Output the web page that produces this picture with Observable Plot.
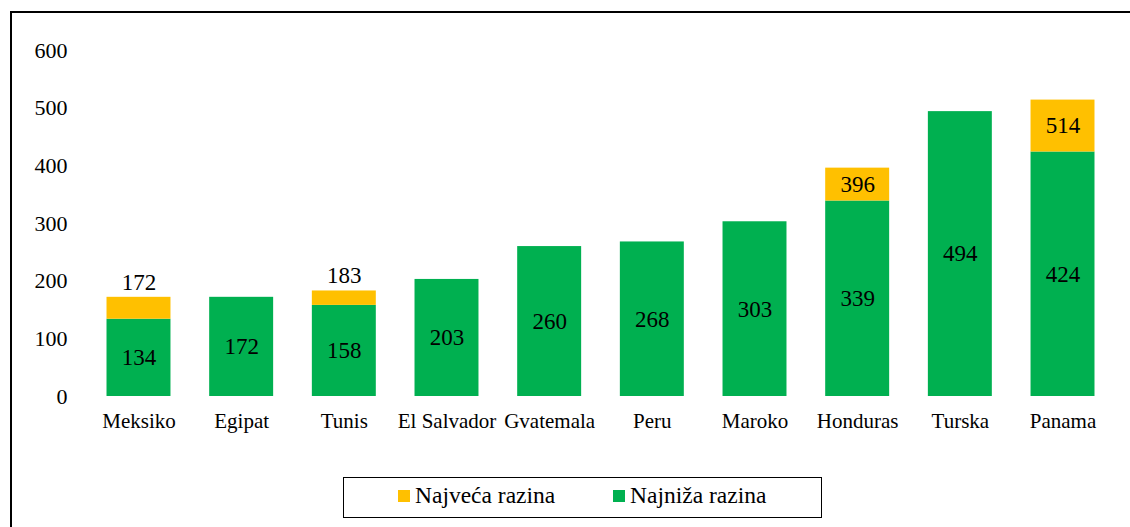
<!DOCTYPE html>
<html>
<head>
<meta charset="utf-8">
<script src="https://cdn.jsdelivr.net/npm/d3@7"></script>
<script src="https://cdn.jsdelivr.net/npm/@observablehq/plot@0.6"></script>
<style>
  html, body { margin: 0; padding: 0; background: #fff; overflow: hidden; width: 1130px; height: 527px; }
  #frame { position: absolute; left: 10px; top: 11px; width: 1200px; height: 600px; border: 2px solid #000; box-sizing: border-box; }
  #chart { position: absolute; left: 0; top: 0; }
  #legend { position: absolute; left: 343px; top: 477px; width: 479px; height: 41px; border: 1.5px solid #000; box-sizing: border-box;
    font-family: "Liberation Serif", "Times New Roman", Times, "DejaVu Serif", serif; font-size: 23.5px; color: #000; }
  .item { position: absolute; top: 4px; display: flex; align-items: center; white-space: nowrap; }
  .sw { width: 12px; height: 12px; margin-right: 5px; margin-top: 1px; }
</style>
</head>
<body>
<div id="frame"></div>
<div id="chart"></div>
<div id="legend">
  <div class="item" style="left:54px"><span class="sw" style="background:#FFC000"></span>Najveća razina</div>
  <div class="item" style="left:269px"><span class="sw" style="background:#00B050"></span>Najniža razina</div>
</div>
<script>
const countries = ["Meksiko", "Egipat", "Tunis", "El Salvador", "Gvatemala", "Peru", "Maroko", "Honduras", "Turska", "Panama"];
const lowest = [134, 172, 158, 203, 260, 268, 303, 339, 494, 424];
const highest = [172, null, 183, null, null, null, null, 396, null, 514];
const yTicks = [0, 100, 200, 300, 400, 500, 600];

const rows = countries.map((c, i) => ({country: c, low: lowest[i], high: highest[i]}));
const withHigh = rows.filter(d => d.high != null);
const highInside = withHigh.filter(d => d.high - d.low >= 50);
const highAbove = withHigh.filter(d => d.high - d.low < 50);

const font = '"Liberation Serif", "Times New Roman", Times, "DejaVu Serif", serif';
const plot = Plot.plot({
  width: 1130,
  height: 440,
  marginLeft: 87,
  marginRight: 16,
  marginTop: 50,
  marginBottom: 44,
  style: {fontFamily: font, fontSize: "21px", color: "#000", background: "transparent"},
  x: {domain: countries, paddingInner: 0.377, paddingOuter: 0.19, round: false, label: null},
  y: {domain: [0, 600], ticks: yTicks, label: null},
  marks: [
    Plot.gridY(yTicks, {stroke: "#d9d9d9", strokeOpacity: 1, strokeWidth: 1.5, x1: 87, x2: 1114}),
    Plot.axisY(yTicks, {tickSize: 0, tickPadding: 20, fontSize: 22, label: null}),
    Plot.axisX({tickSize: 0, tickPadding: 17, fontSize: 21, label: null}),
    Plot.barY(rows, {x: "country", y1: 0, y2: "low", fill: "#00B050"}),
    Plot.barY(withHigh, {x: "country", y1: "low", y2: "high", fill: "#FFC000"}),
    Plot.text(rows, {x: "country", y: d => d.low / 2, text: d => String(d.low), fontSize: 23, fill: "#000"}),
    Plot.text(highInside, {x: "country", y: d => (d.low + d.high) / 2, text: d => String(d.high), fontSize: 23, fill: "#000"}),
    Plot.text(highAbove, {x: "country", y: "high", dy: -15, text: d => String(d.high), fontSize: 23, fill: "#000"})
  ]
});
plot.querySelectorAll("text").forEach(t => t.setAttribute("font-family", font));
document.getElementById("chart").appendChild(plot);
</script>
</body>
</html>
